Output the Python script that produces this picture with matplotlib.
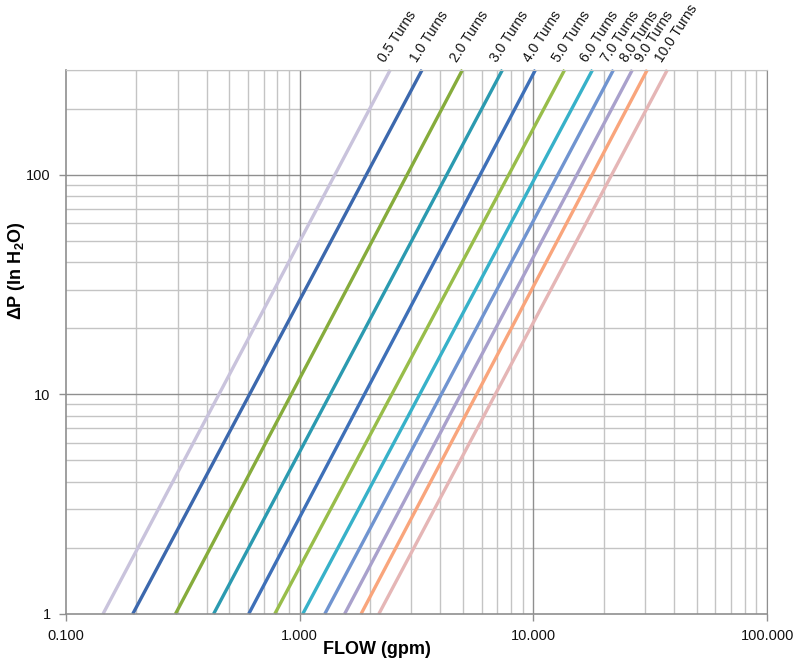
import numpy as np
import matplotlib
matplotlib.use('Agg')
import matplotlib.pyplot as plt
from matplotlib.ticker import FixedLocator, NullFormatter, NullLocator

plt.rcParams['font.family'] = ['Liberation Sans', 'DejaVu Sans']
plt.rcParams['mathtext.fontset'] = 'custom'
plt.rcParams['mathtext.rm'] = 'Liberation Sans'
plt.rcParams['mathtext.bf'] = 'Liberation Sans:bold'
plt.rcParams['mathtext.default'] = 'bf'

# Curve labels (valve turns)
turns = ['0.5', '1.0', '2.0', '3.0', '4.0', '5.0', '6.0', '7.0', '8.0', '9.0', '10.0']

# Flow (gpm) where each curve meets dP = 1 and dP = 300 in H2O
flow_at_low = [0.144, 0.193, 0.294, 0.428, 0.605, 0.782, 1.03, 1.28, 1.556, 1.83, 2.18]
flow_at_high = [2.44, 3.34, 4.97, 7.37, 10.2, 13.6, 17.9, 22.0, 26.5, 30.7, 37.4]
dp_low = 1
dp_high = 300

colors = ['#c9c3dc', '#3c68ad', '#86ac3c', '#2b9ab0', '#3e70b8', '#98bd4a',
          '#37b1c9', '#7094d0', '#a9a1cc', '#f9a57c', '#e5b6b6']

# Axis ticks
x_major = [0.1, 1, 10, 100]
x_labels = ['0.100', '1.000', '10.000', '100.000']
y_major = [1, 10, 100]
y_labels = ['1', '10', '100']

fig = plt.figure(figsize=(7.95, 6.65), dpi=100)
ax = fig.add_axes([0.083, 0.0767, 0.882, 0.8183])
ax.set_xscale('log')
ax.set_yscale('log')
ax.set_xlim(0.1, 100)
ax.set_ylim(1, 300)

# Grid lines
minor_c = '#c4c4c4'
major_c = '#8f8f8f'
for dec in [0.1, 1, 10]:
    for m in range(2, 10):
        ax.axvline(dec * m, color=minor_c, lw=1.0, zorder=0)
for dec in [1, 10, 100]:
    for m in range(2, 10):
        if dec * m <= 300:
            ax.axhline(dec * m, color=minor_c, lw=1.0, zorder=0)
for v in x_major[1:]:
    ax.axvline(v, color=major_c, lw=1.0, zorder=0)
for v in y_major[1:]:
    ax.axhline(v, color=major_c, lw=1.0, zorder=0)

# Curves
for lbl, q1, q2, c in zip(turns, flow_at_low, flow_at_high, colors):
    ax.plot([q1, q2], [dp_low, dp_high], color=c, lw=2.4, solid_capstyle='butt', zorder=2, clip_on=False)
    ax.annotate(lbl + ' Turns', xy=(q2, dp_high), xytext=(-2, 4), textcoords='offset points',
                rotation=57, rotation_mode='anchor', ha='left', va='bottom',
                fontsize=10, color='#111111', annotation_clip=False)

ax.xaxis.set_major_locator(FixedLocator(x_major))
ax.set_xticklabels(x_labels)
ax.yaxis.set_major_locator(FixedLocator(y_major))
ax.set_yticklabels(y_labels)
ax.xaxis.set_minor_locator(NullLocator())
ax.yaxis.set_minor_locator(NullLocator())
ax.xaxis.set_minor_formatter(NullFormatter())
ax.yaxis.set_minor_formatter(NullFormatter())
ax.tick_params(axis='both', which='major', direction='out', length=5, width=1,
               color='#8f8f8f', labelsize=10.5, labelcolor='#111111', pad=6)

for side in ['left', 'bottom']:
    ax.spines[side].set_color('#8f8f8f')
    ax.spines[side].set_linewidth(1.2)
ax.spines['top'].set_color(minor_c)
ax.spines['right'].set_color(major_c)

ax.set_xlabel('FLOW (gpm)', fontsize=13, fontweight='bold')
ax.set_ylabel('ΔP (In H$_2$O)', fontsize=13, fontweight='bold')
ax.xaxis.set_label_coords(0.444, -0.05)
ax.yaxis.set_label_coords(-0.055, 0.63)

fig.savefig('out.png', dpi=100)
